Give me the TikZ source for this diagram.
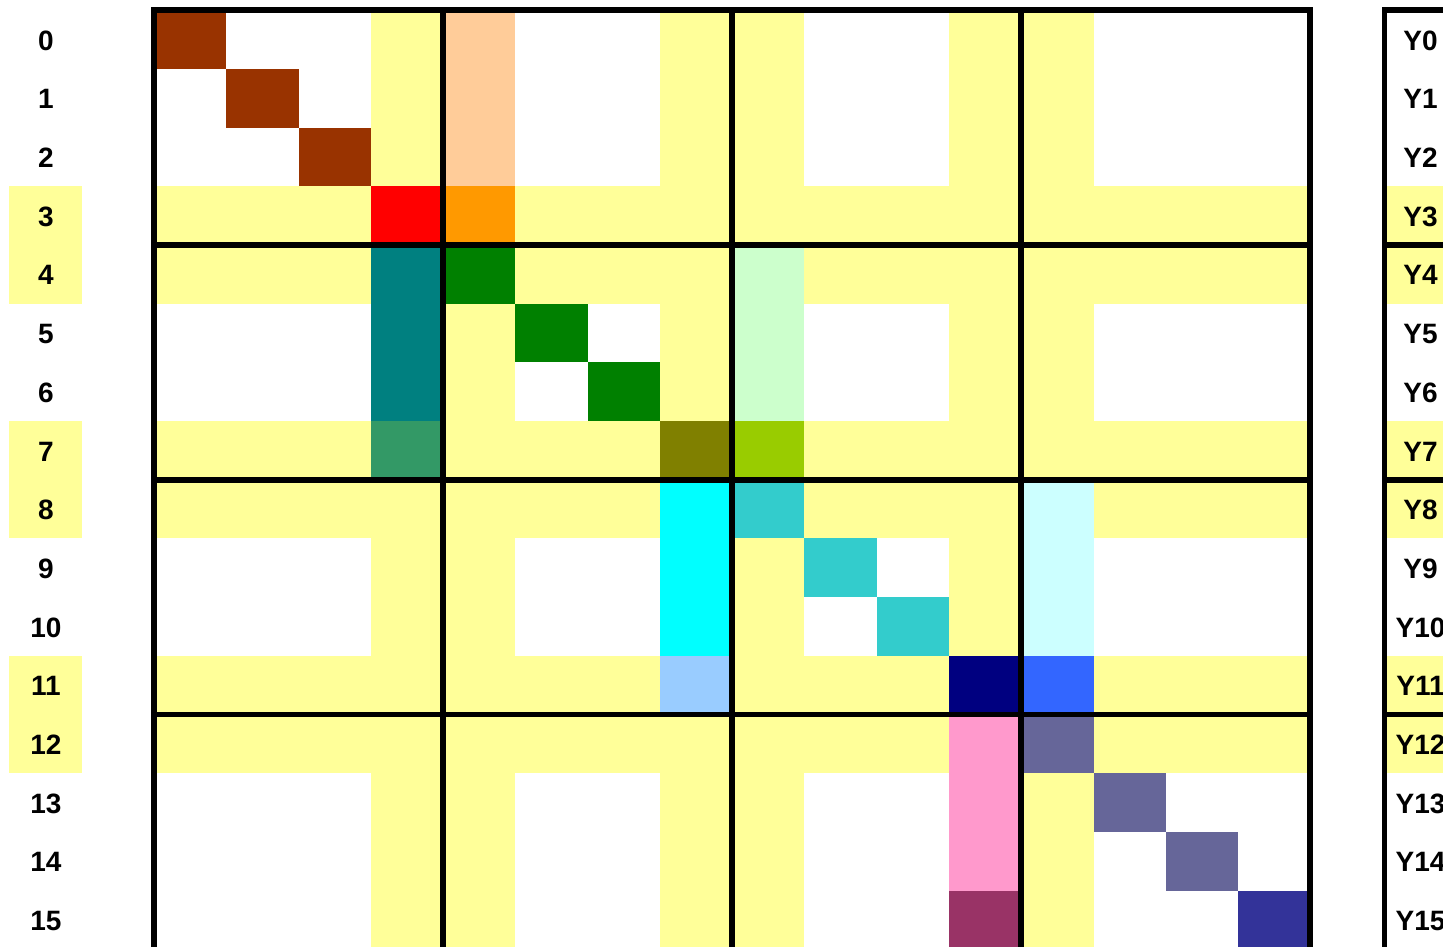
\documentclass[tikz,border=0pt]{standalone}
\usepackage{fontspec}
\setmainfont{Liberation Sans}
\definecolor{cyel}{HTML}{FFFF99}
\definecolor{cbrown}{HTML}{993300}
\definecolor{cred}{HTML}{FF0000}
\definecolor{cpeach}{HTML}{FFCC99}
\definecolor{corange}{HTML}{FF9900}
\definecolor{cteal}{HTML}{008080}
\definecolor{cseag}{HTML}{339966}
\definecolor{cgreen}{HTML}{008000}
\definecolor{colive}{HTML}{808000}
\definecolor{clime}{HTML}{99CC00}
\definecolor{cltgreen}{HTML}{CCFFCC}
\definecolor{ccyan}{HTML}{00FFFF}
\definecolor{cskyblue}{HTML}{99CCFF}
\definecolor{cturq}{HTML}{33CCCC}
\definecolor{cnavy}{HTML}{000080}
\definecolor{cblue}{HTML}{3366FF}
\definecolor{cltcyan}{HTML}{CCFFFF}
\definecolor{cpink}{HTML}{FF99CC}
\definecolor{cplum}{HTML}{993366}
\definecolor{cgrayblue}{HTML}{666699}
\definecolor{cindigo}{HTML}{333399}
\newcommand\cellfill[3]{\fill[#3] ({154+#2*72.27},{10.3+#1*58.68}) rectangle ({154+(#2+1)*72.27},{10.3+(#1+1)*58.68});}
\tikzset{
  lbl/.style={font=\fontsize{28}{30}\selectfont\bfseries, inner sep=0pt, anchor=center},
  thick line/.style={line width=5.7pt, black},
}
\begin{document}
\begin{tikzpicture}[x=1pt,y=-1pt]
\useasboundingbox (0,0) rectangle (1443,947);
\clip (0,0) rectangle (1443,947);
% yellow rows/cols in matrix
\foreach \r in {3,4,7,8,11,12} {
  \fill[cyel] (154,{10.3+\r*58.68}) rectangle (1310.3,{10.3+(\r+1)*58.68});
  \fill[cyel] (9,{10.3+\r*58.68}) rectangle (81.7,{10.3+(\r+1)*58.68});
  \fill[cyel] (1384.5,{10.3+\r*58.68}) rectangle (1460,{10.3+(\r+1)*58.68});
}
\foreach \c in {3,4,7,8,11,12} {
  \fill[cyel] ({154+\c*72.27},10.3) rectangle ({154+(\c+1)*72.27},960);
}
% coloured cells
\foreach \r/\c/\col in {0/0/cbrown,1/1/cbrown,2/2/cbrown,3/3/cred,
  0/4/cpeach,1/4/cpeach,2/4/cpeach,3/4/corange,
  4/3/cteal,5/3/cteal,6/3/cteal,7/3/cseag,
  4/4/cgreen,5/5/cgreen,6/6/cgreen,7/7/colive,7/8/clime,
  4/8/cltgreen,5/8/cltgreen,6/8/cltgreen,
  8/7/ccyan,9/7/ccyan,10/7/ccyan,11/7/cskyblue,
  8/8/cturq,9/9/cturq,10/10/cturq,11/11/cnavy,11/12/cblue,
  8/12/cltcyan,9/12/cltcyan,10/12/cltcyan,
  12/11/cpink,13/11/cpink,14/11/cpink,15/11/cplum,
  12/12/cgrayblue,13/13/cgrayblue,14/14/cgrayblue,15/15/cindigo} {
  \cellfill{\r}{\c}{\col}
}
% thick grid lines
\foreach \k in {0,...,4} {
  \draw[thick line] ({154+\k*4*72.27},10.3) -- ({154+\k*4*72.27},960);
}
\foreach \k in {0,...,3} {
  \draw[thick line, line cap=rect] (154,{10.3+\k*4*58.68}) -- (1310.3,{10.3+\k*4*58.68});
  \draw[thick line, line cap=rect] (1384.5,{10.3+\k*4*58.68}) -- (1460,{10.3+\k*4*58.68});
}
\draw[thick line] (1384.5,10.3) -- (1384.5,960);
% labels
\foreach \r in {0,...,15} {
  \node[lbl] (L\r) at (46,{11.3+(\r+0.5)*58.68}) {\r};
  \node[lbl] (R\r) at (1420.5,{11.3+(\r+0.5)*58.68}) {Y\r};
}
\end{tikzpicture}
\end{document}
